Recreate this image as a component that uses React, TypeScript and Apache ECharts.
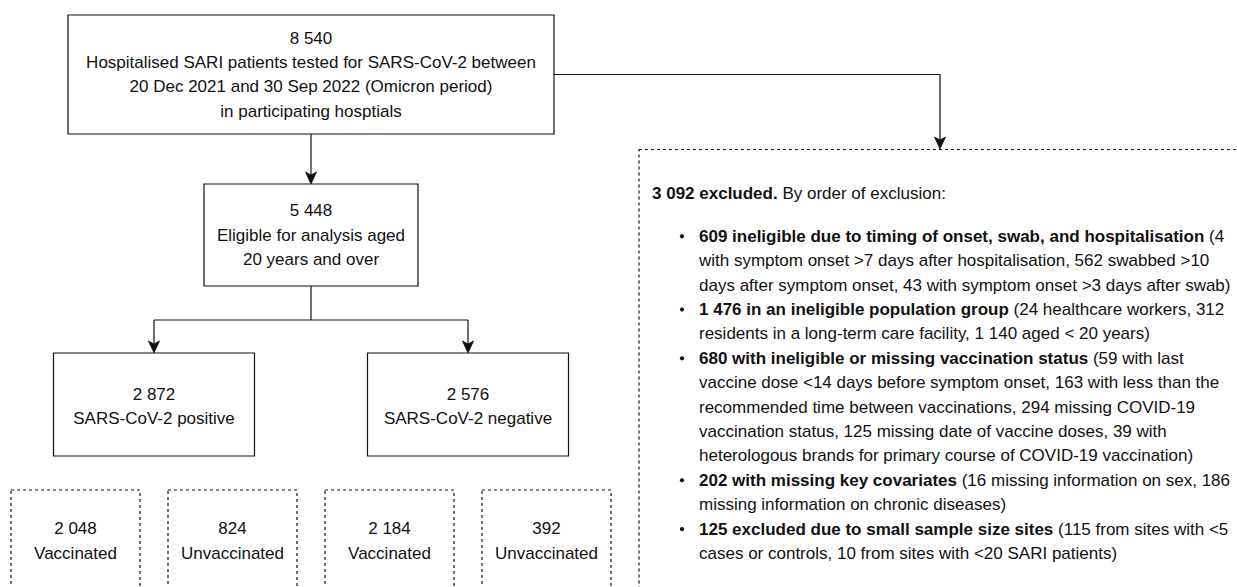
import React, { useEffect, useRef } from "react";
import * as echarts from "echarts";

// ---- Data ----
const stageCounts = ["8 540", "5 448"];
const stageLabels = [
  [
    "Hospitalised SARI patients tested for SARS-CoV-2 between",
    "20 Dec 2021 and 30 Sep 2022 (Omicron period)",
    "in participating hosptials",
  ],
  ["Eligible for analysis aged", "20 years and over"],
];
const testCounts = ["2 872", "2 576"];
const testLabels = ["SARS-CoV-2 positive", "SARS-CoV-2 negative"];
const vaccCounts = ["2 048", "824", "2 184", "392"];
const vaccLabels = ["Vaccinated", "Unvaccinated", "Vaccinated", "Unvaccinated"];
const excludedTotal = "3 092 excluded.";
const excludedIntro = " By order of exclusion:";
const exclusionHeads = [
  "609 ineligible due to timing of onset, swab, and hospitalisation",
  "1 476 in an ineligible population group",
  "680 with ineligible or missing vaccination status",
  "202 with missing key covariates",
  "125 excluded due to small sample size sites",
];
const exclusionDetails = [
  [
    " (4",
    "with symptom onset >7 days after hospitalisation, 562 swabbed >10",
    "days after symptom onset, 43 with symptom onset >3 days after swab)",
  ],
  [" (24 healthcare workers, 312", "residents in a long-term care facility, 1 140 aged < 20 years)"],
  [
    " (59 with last",
    "vaccine dose <14 days before symptom onset, 163 with less than the",
    "recommended time between vaccinations, 294 missing COVID-19",
    "vaccination status, 125 missing date of vaccine doses, 39 with",
    "heterologous brands for primary course of COVID-19 vaccination)",
  ],
  [" (16 missing information on sex, 186", "missing information on chronic diseases)"],
  [" (115 from sites with <5", "cases or controls, 10 from sites with <20 SARI patients)"],
];

// ---- Styles ----
const FONT = "'Liberation Sans', Arial, Helvetica, sans-serif";
const FS = 17;
const LH = 24.4;
const INK = "#111";

function txt(x: number, y: number, text: string, align = "center"): any {
  return {
    type: "text",
    x,
    y,
    silent: true,
    style: {
      text,
      fill: INK,
      fontFamily: FONT,
      fontSize: FS,
      align,
      verticalAlign: "middle",
    },
  };
}

function richLine(x: number, y: number, bold: string, rest: string): any {
  return {
    type: "text",
    x,
    y,
    silent: true,
    style: {
      text: `{b|${bold}}{r|${rest}}`,
      fill: INK,
      fontFamily: FONT,
      fontSize: FS,
      align: "left",
      verticalAlign: "middle",
      rich: {
        b: { fontWeight: "bold", fontFamily: FONT, fontSize: FS, fill: INK },
        r: { fontWeight: "normal", fontFamily: FONT, fontSize: FS, fill: INK },
      },
    },
  };
}

function box(x: number, y: number, w: number, h: number, dashed = false): any {
  return {
    type: "rect",
    silent: true,
    shape: { x, y, width: w, height: h },
    style: {
      fill: "#fff",
      stroke: INK,
      lineWidth: 1.2,
      lineDash: dashed ? [3, 3] : null,
    },
  };
}

function line(points: number[][]): any {
  return {
    type: "polyline",
    silent: true,
    shape: { points },
    style: { stroke: INK, lineWidth: 1.2, fill: null },
  };
}

function arrowDown(x: number, tipY: number): any {
  return {
    type: "polygon",
    silent: true,
    shape: {
      points: [
        [x, tipY],
        [x - 5.5, tipY - 12],
        [x, tipY - 9],
        [x + 5.5, tipY - 12],
      ],
    },
    style: { fill: INK, stroke: INK, lineWidth: 0.8 },
  };
}

function buildElements(): any[] {
  const els: any[] = [];

  // Connectors
  els.push(line([[311, 134], [311, 176]]));
  els.push(arrowDown(311, 184));
  els.push(line([[311, 286], [311, 320]]));
  els.push(line([[154, 320], [468, 320]]));
  els.push(line([[154, 320], [154, 345]]));
  els.push(line([[468, 320], [468, 345]]));
  els.push(arrowDown(154, 353));
  els.push(arrowDown(468, 353));
  els.push(line([[554, 74.5], [940, 74.5], [940, 141]]));
  els.push(arrowDown(940, 149));

  // Top box
  els.push(box(68, 15, 486, 119));
  els.push(txt(311, 38, stageCounts[0]));
  stageLabels[0].forEach((s, i) => els.push(txt(311, 38 + LH * (i + 1), s)));

  // Eligible box
  els.push(box(204, 184, 214, 102));
  els.push(txt(311, 210.7, stageCounts[1]));
  stageLabels[1].forEach((s, i) => els.push(txt(311, 210.7 + LH * (i + 1), s)));

  // Positive / negative boxes
  const testCx = [154, 468];
  testCx.forEach((cx, i) => {
    els.push(box(cx - 100.5, 353, 201, 103));
    els.push(txt(cx, 394, testCounts[i]));
    els.push(txt(cx, 418.5, testLabels[i]));
  });

  // Vaccination boxes (dashed, extending beyond bottom)
  const vaccLeft = [11, 168, 325, 482];
  vaccLeft.forEach((lx, i) => {
    els.push(box(lx, 490, 129, 140, true));
    els.push(txt(lx + 64.5, 528.7, vaccCounts[i]));
    els.push(txt(lx + 64.5, 553, vaccLabels[i]));
  });

  // Exclusion box (dashed, extending beyond right/bottom)
  els.push(box(639, 149.5, 640, 480, true));
  els.push(richLine(652, 193, excludedTotal, excludedIntro));

  let k = 0;
  exclusionHeads.forEach((head, i) => {
    const det = exclusionDetails[i];
    const y0 = 236.3 + LH * k;
    els.push({
      type: "circle",
      silent: true,
      shape: { cx: 682, cy: y0, r: 2.1 },
      style: { fill: INK },
    });
    els.push(richLine(699, y0, head, det[0]));
    k++;
    for (let j = 1; j < det.length; j++) {
      els.push(txt(699, 236.3 + LH * k, det[j], "left"));
      k++;
    }
  });

  return els;
}

export default function App() {
  const ref = useRef<HTMLDivElement>(null);
  useEffect(() => {
    document.body.style.margin = "0";
    if (!ref.current) return;
    const chart = echarts.init(ref.current, null, { renderer: "svg" });
    chart.setOption({
      animation: false,
      backgroundColor: "#ffffff",
      graphic: { elements: buildElements() },
    });
    return () => chart.dispose();
  }, []);
  return (
    <div
      ref={ref}
      style={{ position: "absolute", left: 0, top: 0, width: 1237, height: 587 }}
    />
  );
}
